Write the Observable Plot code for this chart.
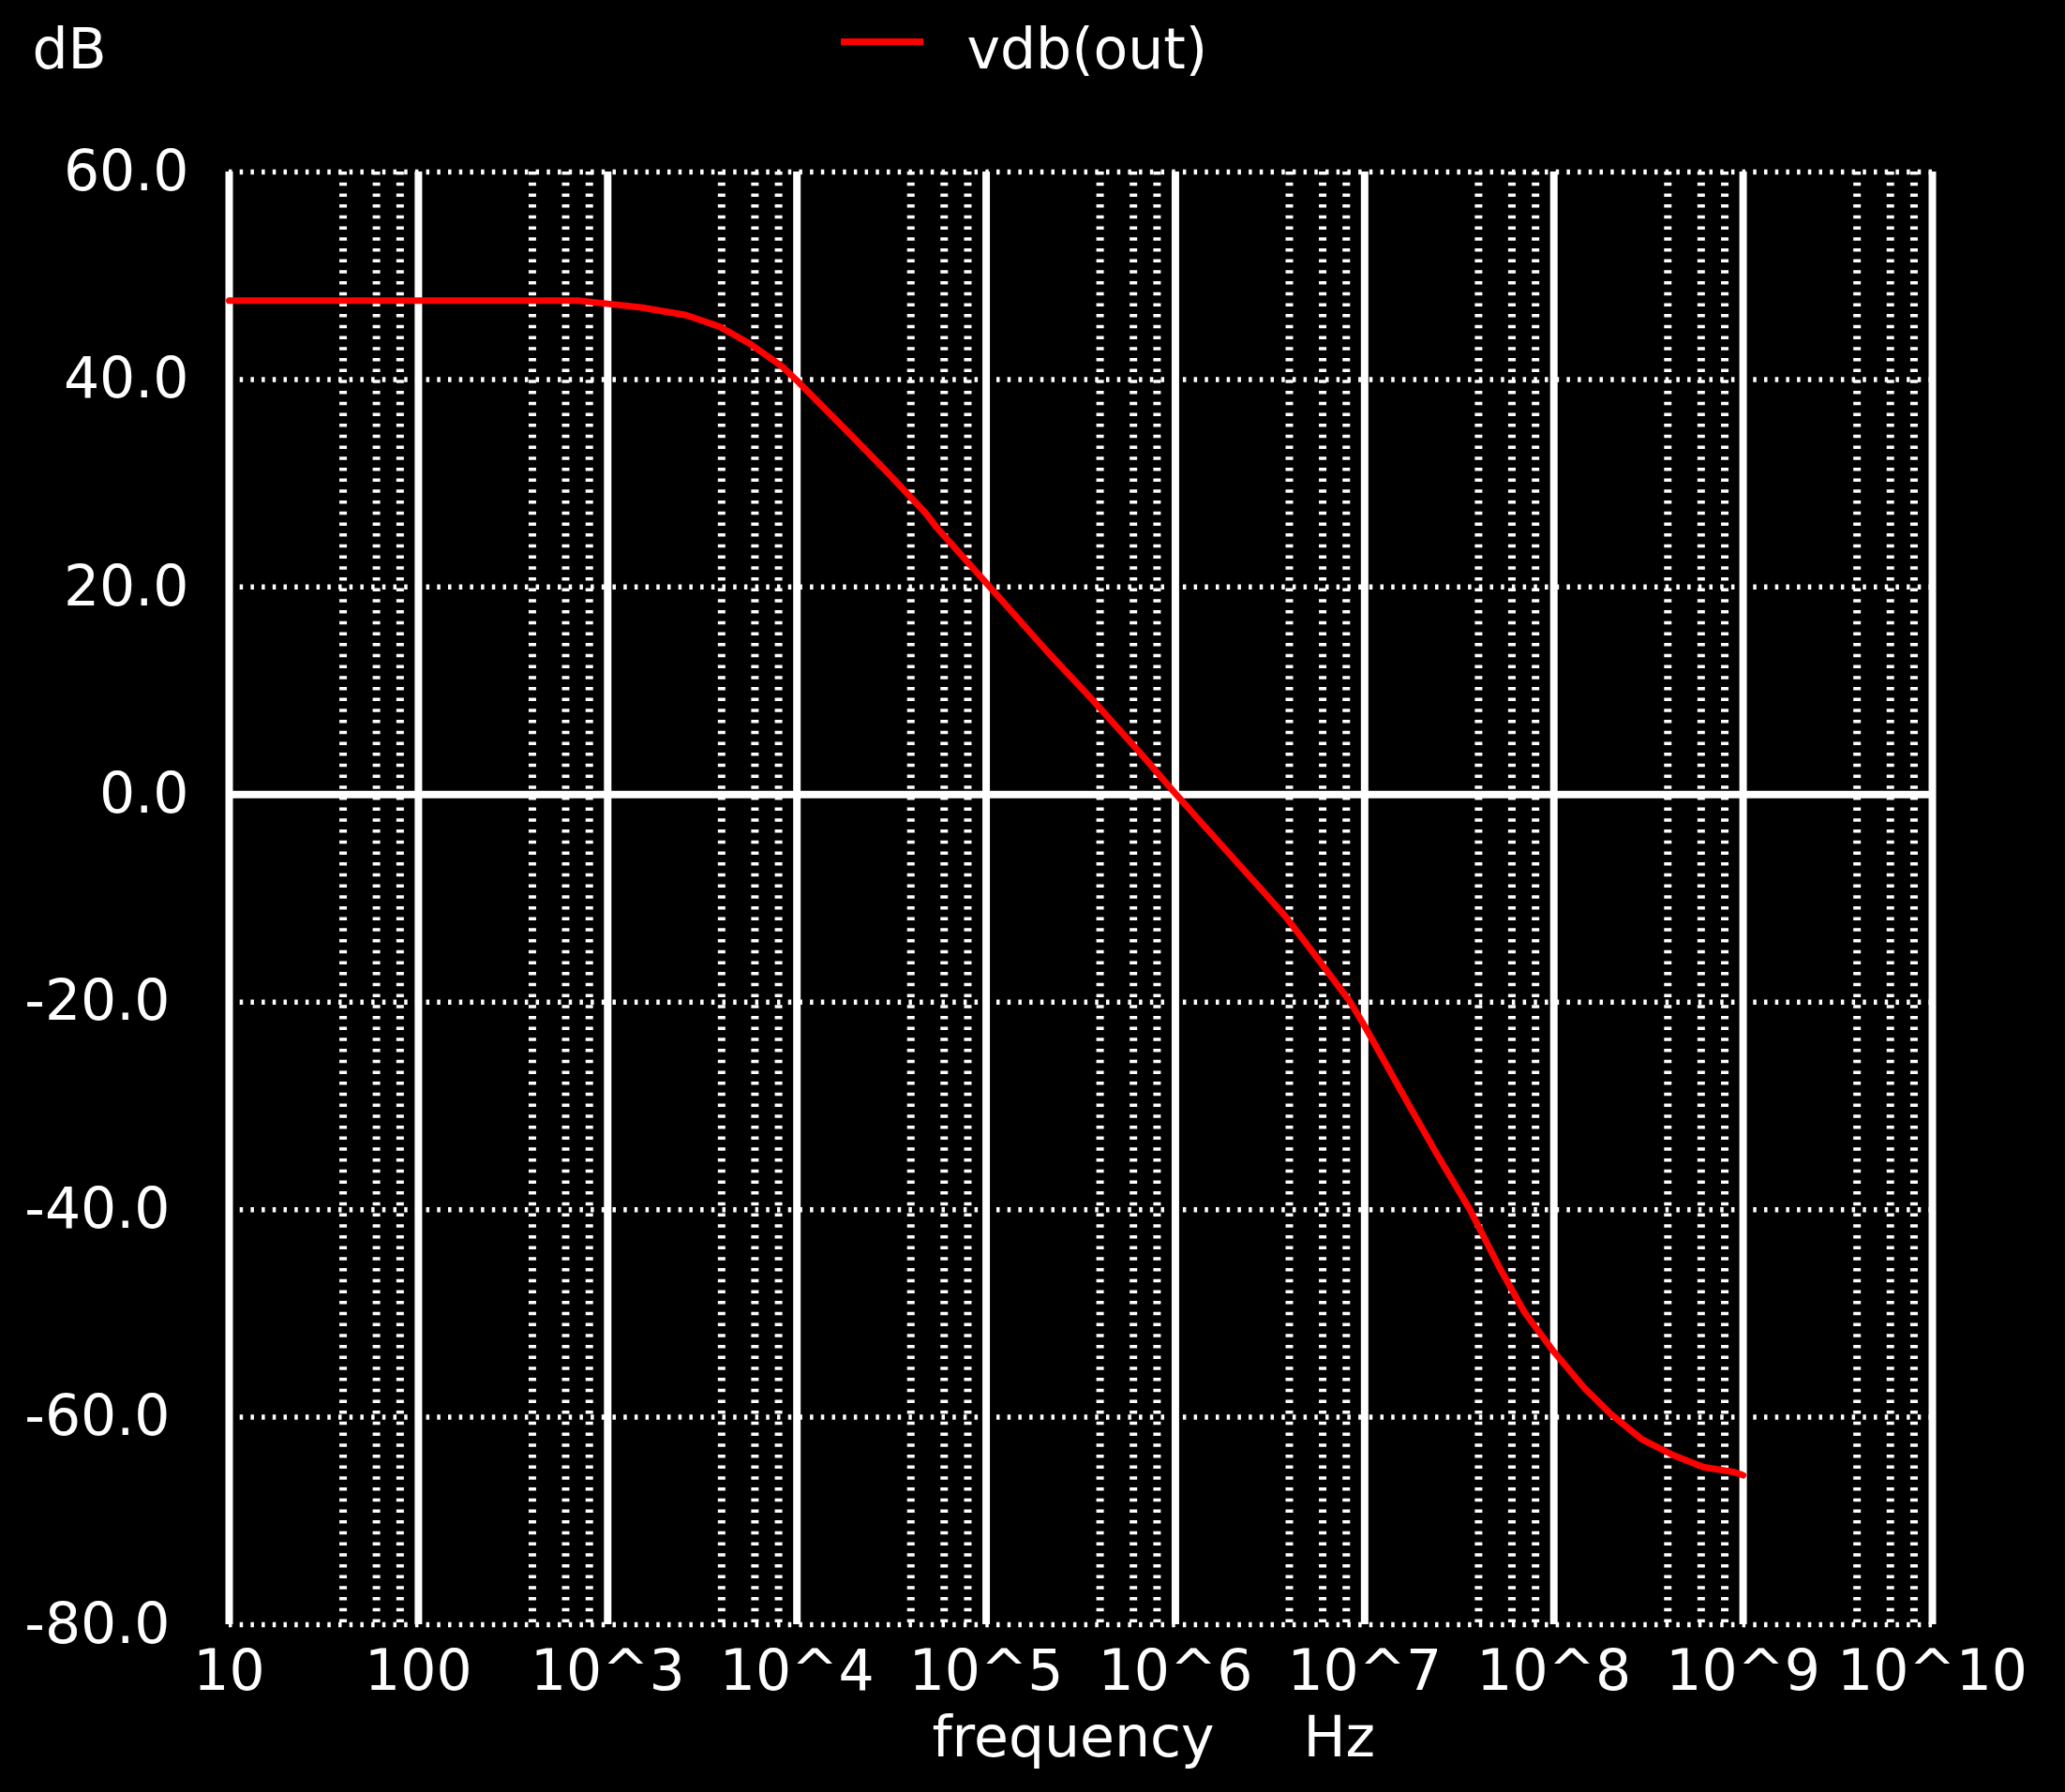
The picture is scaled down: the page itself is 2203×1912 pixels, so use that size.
<!DOCTYPE html>
<html>
<head>
<meta charset="utf-8">
<script src="https://cdn.jsdelivr.net/npm/d3@7"></script>
<script src="https://cdn.jsdelivr.net/npm/@observablehq/plot@0.6"></script>
<style>
  html, body { margin: 0; padding: 0; background: #000; }
  #chart svg { display: block; }
</style>
</head>
<body>
<div id="chart"></div>
<script>
// ---- data ----
const freqHz = [10, 100, 700, 1000, 1.5e3, 2.6e3, 3.9e3, 5.7e3, 8.3e3, 1e4,
  1.8e4, 3.1e4, 4.8e4, 5.5e4, 1e5, 2.1e5, 3.7e5, 6.6e5, 1e6, 1.7e6,
  2.8e6, 3.8e6, 5.7e6, 8.4e6, 1e7, 1.7e7, 2.4e7, 3.6e7, 5.2e7, 7.0e7,
  1e8, 1.45e8, 2.0e8, 2.9e8, 4.2e8, 6.15e8, 9.0e8, 1e9];
const vdbOut = [47.6, 47.6, 47.6, 47.3, 46.95, 46.2, 45.1, 43.4, 41.3, 39.9,
  35.2, 30.8, 27.1, 25.7, 20.4, 13.8, 9.0, 3.9, 0.1, -4.6,
  -9.0, -11.7, -15.9, -20.0, -22.3, -29.8, -34.6, -40.0, -45.7, -49.9,
  -53.7, -57.2, -59.7, -62.1, -63.6, -64.8, -65.3, -65.6];

const xTickValues = [10, 100, 1e3, 1e4, 1e5, 1e6, 1e7, 1e8, 1e9, 1e10];
const xTickLabels = ["10", "100", "10^3", "10^4", "10^5", "10^6", "10^7", "10^8", "10^9", "10^10"];
const minorMultipliers = [4, 6, 8];
const yTickValues = [60, 40, 20, 0, -20, -40, -60, -80];
const yTickLabels = ["60.0", "40.0", "20.0", "0.0", "-20.0", "-40.0", "-60.0", "-80.0"];
const seriesName = "vdb(out)";
const yUnit = "dB";
const xLabel = "frequency";
const xUnit = "Hz";

// ---- build ----
const data = freqHz.map((f, i) => ({f, db: vdbOut[i]}));
const minorTicks = xTickValues.slice(0, -1).flatMap(d => minorMultipliers.map(m => d * m));
const xLab = new Map(xTickValues.map((v, i) => [v, xTickLabels[i]]));
const yLab = new Map(yTickValues.map((v, i) => [v, yTickLabels[i]]));

const FONT = "'DejaVu Sans', sans-serif";
const FS = 60;
const W = 2203, H = 1912;
const mL = 244, mR = 142, mT = 183, mB = 179;
const DASH = "3.5 8.2";

const plot = Plot.plot({
  width: W, height: H,
  marginLeft: mL, marginRight: mR, marginTop: mT, marginBottom: mB,
  style: {background: "#000", color: "#fff", fontFamily: FONT, fontSize: FS + "px"},
  x: {type: "log", domain: [10, 1e10], label: null},
  y: {domain: [-80, 60], label: null},
  marks: [
    Plot.ruleX(minorTicks, {stroke: "#fff", strokeWidth: 8, strokeDasharray: DASH}),
    Plot.ruleY(yTickValues.filter(v => v !== 0), {stroke: "#fff", strokeWidth: 5.5, strokeDasharray: DASH}),
    Plot.ruleX(xTickValues, {stroke: "#fff", strokeWidth: 8}),
    Plot.ruleY([0], {stroke: "#fff", strokeWidth: 8}),
    Plot.line(data, {x: "f", y: "db", stroke: "#ff0000", strokeWidth: 7}),
    Plot.axisX(xTickValues, {tickSize: 0, tickPadding: 27, tickFormat: d => xLab.get(d), fontSize: FS, label: null}),
    Plot.axisY(yTickValues.filter(v => v >= 0), {tickSize: 0, tickPadding: 43, tickFormat: d => yLab.get(d), fontSize: FS, label: null}),
    Plot.axisY(yTickValues.filter(v => v < 0), {tickSize: 0, tickPadding: 63, tickFormat: d => yLab.get(d), fontSize: FS, label: null}),
    Plot.text([yUnit], {text: d => d, frameAnchor: "top-left", dx: -210, dy: -111, textAnchor: "start", lineAnchor: "bottom", fontSize: FS, fill: "#fff"}),
    Plot.text([seriesName], {text: d => d, frameAnchor: "top-left", dx: 787, dy: -111, textAnchor: "start", lineAnchor: "bottom", fontSize: FS, fill: "#fff"}),
    Plot.text([xLabel], {text: d => d, frameAnchor: "bottom-left", dx: 750, dy: 140, textAnchor: "start", lineAnchor: "bottom", fontSize: FS, fill: "#fff"}),
    Plot.text([xUnit], {text: d => d, frameAnchor: "bottom-left", dx: 1146, dy: 140, textAnchor: "start", lineAnchor: "bottom", fontSize: FS, fill: "#fff"})
  ]
});

// legend swatch
d3.select(plot).append("line")
  .attr("x1", 897).attr("x2", 985).attr("y1", 44.5).attr("y2", 44.5)
  .attr("stroke", "#ff0000").attr("stroke-width", 7);

document.getElementById("chart").appendChild(plot);
</script>
</body>
</html>
